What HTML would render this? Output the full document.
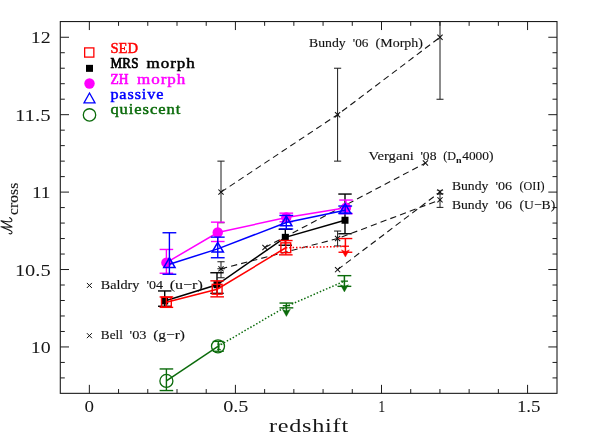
<!DOCTYPE html><html><head><meta charset="utf-8"><title>plot</title><style>
html,body{margin:0;padding:0;background:#fff;}svg{display:block;will-change:transform;}text{font-family:"Liberation Serif",serif;}
</style></head><body>
<svg width="592" height="443" viewBox="0 0 592 443">
<rect width="592" height="443" fill="#fff"/>
<g transform="translate(0,0.25)">
<polyline points="221.00,191.85 337.60,114.43 440.00,37.00" fill="none" stroke="#141414" stroke-width="1.1" stroke-dasharray="6.3 4.1"/>
<polyline points="265.00,247.20 425.40,162.80" fill="none" stroke="#141414" stroke-width="1.1" stroke-dasharray="6.3 4.1"/>
<polyline points="221.00,268.60 337.60,238.30 440.00,199.60" fill="none" stroke="#141414" stroke-width="1.1" stroke-dasharray="6.3 4.1"/>
<polyline points="337.60,269.40 440.00,191.80" fill="none" stroke="#141414" stroke-width="1.1" stroke-dasharray="6.3 4.1"/>
<line x1="221.00" y1="160.88" x2="221.00" y2="222.50" stroke="#1a1a1a" stroke-width="1.0" />
<line x1="217.40" y1="160.88" x2="224.60" y2="160.88" stroke="#1a1a1a" stroke-width="1.0" />
<line x1="217.40" y1="222.50" x2="224.60" y2="222.50" stroke="#1a1a1a" stroke-width="1.0" />
<line x1="337.60" y1="67.97" x2="337.60" y2="160.88" stroke="#1a1a1a" stroke-width="1.0" />
<line x1="334.00" y1="67.97" x2="341.20" y2="67.97" stroke="#1a1a1a" stroke-width="1.0" />
<line x1="334.00" y1="160.88" x2="341.20" y2="160.88" stroke="#1a1a1a" stroke-width="1.0" />
<line x1="440.00" y1="21.30" x2="440.00" y2="99.00" stroke="#1a1a1a" stroke-width="1.0" />
<line x1="436.50" y1="99.00" x2="443.50" y2="99.00" stroke="#1a1a1a" stroke-width="1.0" />
<line x1="221.00" y1="261.50" x2="221.00" y2="277.50" stroke="#1a1a1a" stroke-width="1.0" />
<line x1="217.40" y1="261.50" x2="224.60" y2="261.50" stroke="#1a1a1a" stroke-width="1.0" />
<line x1="217.40" y1="277.50" x2="224.60" y2="277.50" stroke="#1a1a1a" stroke-width="1.0" />
<line x1="337.60" y1="230.80" x2="337.60" y2="245.70" stroke="#1a1a1a" stroke-width="1.0" />
<line x1="334.00" y1="230.80" x2="341.20" y2="230.80" stroke="#1a1a1a" stroke-width="1.0" />
<line x1="334.00" y1="245.70" x2="341.20" y2="245.70" stroke="#1a1a1a" stroke-width="1.0" />
<line x1="440.00" y1="190.20" x2="440.00" y2="193.60" stroke="#666" stroke-width="0.9" />
<line x1="436.80" y1="190.20" x2="443.20" y2="190.20" stroke="#666" stroke-width="0.9" />
<line x1="436.80" y1="193.60" x2="443.20" y2="193.60" stroke="#666" stroke-width="0.9" />
<line x1="440.00" y1="193.60" x2="440.00" y2="207.15" stroke="#1a1a1a" stroke-width="1.0" />
<line x1="436.60" y1="193.60" x2="443.40" y2="193.60" stroke="#1a1a1a" stroke-width="1.0" />
<line x1="436.60" y1="207.15" x2="443.40" y2="207.15" stroke="#1a1a1a" stroke-width="1.0" />
<line x1="218.40" y1="189.25" x2="223.60" y2="194.45" stroke="#111" stroke-width="1.05" />
<line x1="218.40" y1="194.45" x2="223.60" y2="189.25" stroke="#111" stroke-width="1.05" />
<line x1="335.00" y1="111.83" x2="340.20" y2="117.03" stroke="#111" stroke-width="1.05" />
<line x1="335.00" y1="117.03" x2="340.20" y2="111.83" stroke="#111" stroke-width="1.05" />
<line x1="437.40" y1="34.40" x2="442.60" y2="39.60" stroke="#111" stroke-width="1.05" />
<line x1="437.40" y1="39.60" x2="442.60" y2="34.40" stroke="#111" stroke-width="1.05" />
<line x1="262.40" y1="244.60" x2="267.60" y2="249.80" stroke="#111" stroke-width="1.05" />
<line x1="262.40" y1="249.80" x2="267.60" y2="244.60" stroke="#111" stroke-width="1.05" />
<line x1="422.80" y1="160.20" x2="428.00" y2="165.40" stroke="#111" stroke-width="1.05" />
<line x1="422.80" y1="165.40" x2="428.00" y2="160.20" stroke="#111" stroke-width="1.05" />
<line x1="218.40" y1="266.00" x2="223.60" y2="271.20" stroke="#111" stroke-width="1.05" />
<line x1="218.40" y1="271.20" x2="223.60" y2="266.00" stroke="#111" stroke-width="1.05" />
<line x1="335.00" y1="235.70" x2="340.20" y2="240.90" stroke="#111" stroke-width="1.05" />
<line x1="335.00" y1="240.90" x2="340.20" y2="235.70" stroke="#111" stroke-width="1.05" />
<line x1="437.40" y1="189.20" x2="442.60" y2="194.40" stroke="#111" stroke-width="1.05" />
<line x1="437.40" y1="194.40" x2="442.60" y2="189.20" stroke="#111" stroke-width="1.05" />
<line x1="335.00" y1="266.80" x2="340.20" y2="272.00" stroke="#111" stroke-width="1.05" />
<line x1="335.00" y1="272.00" x2="340.20" y2="266.80" stroke="#111" stroke-width="1.05" />
<line x1="437.40" y1="197.00" x2="442.60" y2="202.20" stroke="#111" stroke-width="1.05" />
<line x1="437.40" y1="202.20" x2="442.60" y2="197.00" stroke="#111" stroke-width="1.05" />
<line x1="217.40" y1="268.50" x2="225.00" y2="268.50" stroke="#141414" stroke-width="1.0" />
<polyline points="166.40,380.70 218.00,346.10" fill="none" stroke="#0b6b0b" stroke-width="1.5" />
<polyline points="218.00,346.10 286.40,306.20 344.40,280.90" fill="none" stroke="#0b6b0b" stroke-width="1.5" stroke-dasharray="1.5 1.9"/>
<line x1="166.40" y1="368.70" x2="166.40" y2="390.30" stroke="#0b6b0b" stroke-width="1.4" />
<line x1="159.60" y1="368.70" x2="173.20" y2="368.70" stroke="#0b6b0b" stroke-width="1.4" />
<line x1="159.60" y1="390.30" x2="173.20" y2="390.30" stroke="#0b6b0b" stroke-width="1.4" />
<circle cx="166.4" cy="380.7" r="6.5" fill="none" stroke="#0b6b0b" stroke-width="1.3"/>
<line x1="218.30" y1="341.20" x2="218.30" y2="351.00" stroke="#0b6b0b" stroke-width="1.3" />
<line x1="212.80" y1="341.20" x2="223.80" y2="341.20" stroke="#0b6b0b" stroke-width="1.3" />
<line x1="212.80" y1="351.00" x2="223.80" y2="351.00" stroke="#0b6b0b" stroke-width="1.3" />
<line x1="219.00" y1="343.80" x2="219.00" y2="349.20" stroke="#0b6b0b" stroke-width="1.0" />
<line x1="217.20" y1="343.80" x2="220.80" y2="343.80" stroke="#0b6b0b" stroke-width="1.0" />
<line x1="217.20" y1="349.20" x2="220.80" y2="349.20" stroke="#0b6b0b" stroke-width="1.0" />
<circle cx="218" cy="346.1" r="6.5" fill="none" stroke="#0b6b0b" stroke-width="1.3"/>
<line x1="286.40" y1="302.80" x2="286.40" y2="314.20" stroke="#0b6b0b" stroke-width="1.5" />
<line x1="279.50" y1="302.80" x2="293.30" y2="302.80" stroke="#0b6b0b" stroke-width="1.4" />
<line x1="282.80" y1="305.40" x2="290.00" y2="305.40" stroke="#0b6b0b" stroke-width="1.3" />
<line x1="279.50" y1="307.60" x2="293.30" y2="307.60" stroke="#0b6b0b" stroke-width="1.4" />
<polygon points="282.40,309.00 286.40,310.80 290.40,309.00 286.40,316.20" fill="#0b6b0b" stroke="#0b6b0b" stroke-width="0.4"/>
<line x1="344.40" y1="275.40" x2="344.40" y2="289.70" stroke="#0b6b0b" stroke-width="1.5" />
<line x1="337.50" y1="275.40" x2="351.30" y2="275.40" stroke="#0b6b0b" stroke-width="1.4" />
<line x1="340.80" y1="280.90" x2="348.00" y2="280.90" stroke="#0b6b0b" stroke-width="1.3" />
<line x1="337.50" y1="286.10" x2="351.30" y2="286.10" stroke="#0b6b0b" stroke-width="1.4" />
<polygon points="340.40,284.50 344.40,286.30 348.40,284.50 344.40,291.70" fill="#0b6b0b" stroke="#0b6b0b" stroke-width="0.4"/>
<polyline points="164.70,300.70 217.00,284.50 285.30,237.10 345.00,220.00" fill="none" stroke="#000" stroke-width="1.5" />
<line x1="164.70" y1="290.70" x2="164.70" y2="306.00" stroke="#000" stroke-width="1.4" />
<line x1="158.00" y1="290.70" x2="171.40" y2="290.70" stroke="#000" stroke-width="1.4" />
<line x1="158.00" y1="306.00" x2="171.40" y2="306.00" stroke="#000" stroke-width="1.4" />
<rect x="161.20" y="297.20" width="7" height="7" fill="#000"/>
<line x1="217.00" y1="272.50" x2="217.00" y2="293.10" stroke="#000" stroke-width="1.4" />
<line x1="210.30" y1="272.50" x2="223.70" y2="272.50" stroke="#000" stroke-width="1.4" />
<line x1="210.30" y1="293.10" x2="223.70" y2="293.10" stroke="#000" stroke-width="1.4" />
<rect x="213.50" y="281.00" width="7" height="7" fill="#000"/>
<line x1="285.30" y1="229.00" x2="285.30" y2="245.00" stroke="#000" stroke-width="1.4" />
<line x1="278.60" y1="229.00" x2="292.00" y2="229.00" stroke="#000" stroke-width="1.4" />
<line x1="278.60" y1="245.00" x2="292.00" y2="245.00" stroke="#000" stroke-width="1.4" />
<rect x="281.80" y="233.60" width="7" height="7" fill="#000"/>
<line x1="345.00" y1="193.80" x2="345.00" y2="233.50" stroke="#000" stroke-width="1.4" />
<line x1="338.30" y1="193.80" x2="351.70" y2="193.80" stroke="#000" stroke-width="1.4" />
<line x1="338.30" y1="233.50" x2="351.70" y2="233.50" stroke="#000" stroke-width="1.4" />
<rect x="341.50" y="216.50" width="7" height="7" fill="#000"/>
<polyline points="166.40,301.90 217.15,289.00 285.80,247.50" fill="none" stroke="#ff0000" stroke-width="1.5" />
<polyline points="285.80,247.50 345.30,246.20" fill="none" stroke="#ff0000" stroke-width="1.5" stroke-dasharray="1.5 1.9"/>
<line x1="166.40" y1="296.70" x2="166.40" y2="307.10" stroke="#ff0000" stroke-width="1.4" />
<line x1="159.60" y1="296.70" x2="173.20" y2="296.70" stroke="#ff0000" stroke-width="1.4" />
<line x1="159.60" y1="307.10" x2="173.20" y2="307.10" stroke="#ff0000" stroke-width="1.4" />
<rect x="161.50" y="297.00" width="9.8" height="9.8" fill="none" stroke="#ff0000" stroke-width="1.4"/>
<line x1="217.15" y1="280.60" x2="217.15" y2="296.60" stroke="#ff0000" stroke-width="1.4" />
<line x1="210.35" y1="280.60" x2="223.95" y2="280.60" stroke="#ff0000" stroke-width="1.4" />
<line x1="210.35" y1="296.60" x2="223.95" y2="296.60" stroke="#ff0000" stroke-width="1.4" />
<rect x="212.25" y="284.10" width="9.8" height="9.8" fill="none" stroke="#ff0000" stroke-width="1.4"/>
<line x1="285.80" y1="240.30" x2="285.80" y2="254.60" stroke="#ff0000" stroke-width="1.4" />
<line x1="279.00" y1="240.30" x2="292.60" y2="240.30" stroke="#ff0000" stroke-width="1.4" />
<line x1="279.00" y1="254.60" x2="292.60" y2="254.60" stroke="#ff0000" stroke-width="1.4" />
<rect x="280.90" y="242.60" width="9.8" height="9.8" fill="none" stroke="#ff0000" stroke-width="1.4"/>
<line x1="345.40" y1="238.30" x2="345.40" y2="254.80" stroke="#ff0000" stroke-width="1.5" />
<line x1="338.50" y1="238.30" x2="352.30" y2="238.30" stroke="#ff0000" stroke-width="1.4" />
<line x1="341.80" y1="246.00" x2="349.00" y2="246.00" stroke="#ff0000" stroke-width="1.3" />
<line x1="338.50" y1="252.00" x2="352.30" y2="252.00" stroke="#ff0000" stroke-width="1.4" />
<polygon points="341.40,249.60 345.40,251.40 349.40,249.60 345.40,256.80" fill="#ff0000" stroke="#ff0000" stroke-width="0.4"/>
<polyline points="166.40,262.40 217.75,232.25 286.30,217.30 346.00,207.40" fill="none" stroke="#ff00ff" stroke-width="1.5" />
<line x1="166.40" y1="249.20" x2="166.40" y2="273.00" stroke="#ff00ff" stroke-width="1.4" />
<line x1="159.60" y1="249.20" x2="173.20" y2="249.20" stroke="#ff00ff" stroke-width="1.4" />
<line x1="159.60" y1="273.00" x2="173.20" y2="273.00" stroke="#ff00ff" stroke-width="1.4" />
<circle cx="166.40" cy="262.40" r="5.2" fill="#ff00ff"/>
<line x1="217.75" y1="221.90" x2="217.75" y2="241.25" stroke="#ff00ff" stroke-width="1.4" />
<line x1="210.95" y1="221.90" x2="224.55" y2="221.90" stroke="#ff00ff" stroke-width="1.4" />
<line x1="210.95" y1="241.25" x2="224.55" y2="241.25" stroke="#ff00ff" stroke-width="1.4" />
<circle cx="217.75" cy="232.25" r="5.2" fill="#ff00ff"/>
<line x1="286.30" y1="212.90" x2="286.30" y2="221.50" stroke="#ff00ff" stroke-width="1.4" />
<line x1="279.50" y1="212.90" x2="293.10" y2="212.90" stroke="#ff00ff" stroke-width="1.4" />
<line x1="279.50" y1="221.50" x2="293.10" y2="221.50" stroke="#ff00ff" stroke-width="1.4" />
<circle cx="286.30" cy="217.30" r="5.2" fill="#ff00ff"/>
<line x1="346.00" y1="199.80" x2="346.00" y2="213.40" stroke="#ff00ff" stroke-width="1.4" />
<line x1="339.20" y1="199.80" x2="352.80" y2="199.80" stroke="#ff00ff" stroke-width="1.4" />
<line x1="339.20" y1="213.40" x2="352.80" y2="213.40" stroke="#ff00ff" stroke-width="1.4" />
<circle cx="346.00" cy="207.40" r="5.2" fill="#ff00ff"/>
<polyline points="169.40,264.00 217.75,248.60 286.30,222.30 345.20,209.90" fill="none" stroke="#0000ff" stroke-width="1.5" />
<line x1="169.40" y1="232.50" x2="169.40" y2="274.00" stroke="#0000ff" stroke-width="1.4" />
<line x1="162.50" y1="232.50" x2="176.30" y2="232.50" stroke="#0000ff" stroke-width="1.4" />
<line x1="162.50" y1="274.00" x2="176.30" y2="274.00" stroke="#0000ff" stroke-width="1.4" />
<polygon points="169.40,257.60 163.80,267.20 175.00,267.20" fill="none" stroke="#0000ff" stroke-width="1.55"/>
<line x1="217.75" y1="236.90" x2="217.75" y2="257.50" stroke="#0000ff" stroke-width="1.4" />
<line x1="210.85" y1="236.90" x2="224.65" y2="236.90" stroke="#0000ff" stroke-width="1.4" />
<line x1="210.85" y1="257.50" x2="224.65" y2="257.50" stroke="#0000ff" stroke-width="1.4" />
<polygon points="217.75,242.20 212.15,251.80 223.35,251.80" fill="none" stroke="#0000ff" stroke-width="1.55"/>
<line x1="286.30" y1="215.20" x2="286.30" y2="228.75" stroke="#0000ff" stroke-width="1.4" />
<line x1="279.40" y1="215.20" x2="293.20" y2="215.20" stroke="#0000ff" stroke-width="1.4" />
<line x1="279.40" y1="228.75" x2="293.20" y2="228.75" stroke="#0000ff" stroke-width="1.4" />
<polygon points="286.30,215.90 280.70,225.50 291.90,225.50" fill="none" stroke="#0000ff" stroke-width="1.55"/>
<line x1="345.20" y1="205.80" x2="345.20" y2="213.00" stroke="#0000ff" stroke-width="1.4" />
<line x1="338.30" y1="205.80" x2="352.10" y2="205.80" stroke="#0000ff" stroke-width="1.4" />
<line x1="338.30" y1="213.00" x2="352.10" y2="213.00" stroke="#0000ff" stroke-width="1.4" />
<polygon points="345.20,203.50 339.60,213.10 350.80,213.10" fill="none" stroke="#0000ff" stroke-width="1.55"/>
<rect x="60.3" y="21.3" width="496.7" height="371.8" fill="none" stroke="#1c1c1c" stroke-width="1.1"/>
<line x1="89.35" y1="393.10" x2="89.35" y2="384.60" stroke="#1c1c1c" stroke-width="1.0" />
<line x1="89.35" y1="21.30" x2="89.35" y2="29.80" stroke="#1c1c1c" stroke-width="1.0" />
<line x1="118.56" y1="393.10" x2="118.56" y2="388.80" stroke="#1c1c1c" stroke-width="1.0" />
<line x1="118.56" y1="21.30" x2="118.56" y2="25.60" stroke="#1c1c1c" stroke-width="1.0" />
<line x1="147.78" y1="393.10" x2="147.78" y2="388.80" stroke="#1c1c1c" stroke-width="1.0" />
<line x1="147.78" y1="21.30" x2="147.78" y2="25.60" stroke="#1c1c1c" stroke-width="1.0" />
<line x1="177.00" y1="393.10" x2="177.00" y2="388.80" stroke="#1c1c1c" stroke-width="1.0" />
<line x1="177.00" y1="21.30" x2="177.00" y2="25.60" stroke="#1c1c1c" stroke-width="1.0" />
<line x1="206.21" y1="393.10" x2="206.21" y2="388.80" stroke="#1c1c1c" stroke-width="1.0" />
<line x1="206.21" y1="21.30" x2="206.21" y2="25.60" stroke="#1c1c1c" stroke-width="1.0" />
<line x1="235.42" y1="393.10" x2="235.42" y2="384.60" stroke="#1c1c1c" stroke-width="1.0" />
<line x1="235.42" y1="21.30" x2="235.42" y2="29.80" stroke="#1c1c1c" stroke-width="1.0" />
<line x1="264.64" y1="393.10" x2="264.64" y2="388.80" stroke="#1c1c1c" stroke-width="1.0" />
<line x1="264.64" y1="21.30" x2="264.64" y2="25.60" stroke="#1c1c1c" stroke-width="1.0" />
<line x1="293.85" y1="393.10" x2="293.85" y2="388.80" stroke="#1c1c1c" stroke-width="1.0" />
<line x1="293.85" y1="21.30" x2="293.85" y2="25.60" stroke="#1c1c1c" stroke-width="1.0" />
<line x1="323.07" y1="393.10" x2="323.07" y2="388.80" stroke="#1c1c1c" stroke-width="1.0" />
<line x1="323.07" y1="21.30" x2="323.07" y2="25.60" stroke="#1c1c1c" stroke-width="1.0" />
<line x1="352.28" y1="393.10" x2="352.28" y2="388.80" stroke="#1c1c1c" stroke-width="1.0" />
<line x1="352.28" y1="21.30" x2="352.28" y2="25.60" stroke="#1c1c1c" stroke-width="1.0" />
<line x1="381.50" y1="393.10" x2="381.50" y2="384.60" stroke="#1c1c1c" stroke-width="1.0" />
<line x1="381.50" y1="21.30" x2="381.50" y2="29.80" stroke="#1c1c1c" stroke-width="1.0" />
<line x1="410.72" y1="393.10" x2="410.72" y2="388.80" stroke="#1c1c1c" stroke-width="1.0" />
<line x1="410.72" y1="21.30" x2="410.72" y2="25.60" stroke="#1c1c1c" stroke-width="1.0" />
<line x1="439.93" y1="393.10" x2="439.93" y2="388.80" stroke="#1c1c1c" stroke-width="1.0" />
<line x1="439.93" y1="21.30" x2="439.93" y2="25.60" stroke="#1c1c1c" stroke-width="1.0" />
<line x1="469.14" y1="393.10" x2="469.14" y2="388.80" stroke="#1c1c1c" stroke-width="1.0" />
<line x1="469.14" y1="21.30" x2="469.14" y2="25.60" stroke="#1c1c1c" stroke-width="1.0" />
<line x1="498.36" y1="393.10" x2="498.36" y2="388.80" stroke="#1c1c1c" stroke-width="1.0" />
<line x1="498.36" y1="21.30" x2="498.36" y2="25.60" stroke="#1c1c1c" stroke-width="1.0" />
<line x1="527.57" y1="393.10" x2="527.57" y2="384.60" stroke="#1c1c1c" stroke-width="1.0" />
<line x1="527.57" y1="21.30" x2="527.57" y2="29.80" stroke="#1c1c1c" stroke-width="1.0" />
<line x1="60.30" y1="377.67" x2="64.80" y2="377.67" stroke="#1c1c1c" stroke-width="1.0" />
<line x1="557.00" y1="377.67" x2="552.50" y2="377.67" stroke="#1c1c1c" stroke-width="1.0" />
<line x1="60.30" y1="362.18" x2="64.80" y2="362.18" stroke="#1c1c1c" stroke-width="1.0" />
<line x1="557.00" y1="362.18" x2="552.50" y2="362.18" stroke="#1c1c1c" stroke-width="1.0" />
<line x1="60.30" y1="346.70" x2="69.00" y2="346.70" stroke="#1c1c1c" stroke-width="1.0" />
<line x1="557.00" y1="346.70" x2="548.30" y2="346.70" stroke="#1c1c1c" stroke-width="1.0" />
<line x1="60.30" y1="331.22" x2="64.80" y2="331.22" stroke="#1c1c1c" stroke-width="1.0" />
<line x1="557.00" y1="331.22" x2="552.50" y2="331.22" stroke="#1c1c1c" stroke-width="1.0" />
<line x1="60.30" y1="315.73" x2="64.80" y2="315.73" stroke="#1c1c1c" stroke-width="1.0" />
<line x1="557.00" y1="315.73" x2="552.50" y2="315.73" stroke="#1c1c1c" stroke-width="1.0" />
<line x1="60.30" y1="300.24" x2="64.80" y2="300.24" stroke="#1c1c1c" stroke-width="1.0" />
<line x1="557.00" y1="300.24" x2="552.50" y2="300.24" stroke="#1c1c1c" stroke-width="1.0" />
<line x1="60.30" y1="284.76" x2="64.80" y2="284.76" stroke="#1c1c1c" stroke-width="1.0" />
<line x1="557.00" y1="284.76" x2="552.50" y2="284.76" stroke="#1c1c1c" stroke-width="1.0" />
<line x1="60.30" y1="269.27" x2="69.00" y2="269.27" stroke="#1c1c1c" stroke-width="1.0" />
<line x1="557.00" y1="269.27" x2="548.30" y2="269.27" stroke="#1c1c1c" stroke-width="1.0" />
<line x1="60.30" y1="253.79" x2="64.80" y2="253.79" stroke="#1c1c1c" stroke-width="1.0" />
<line x1="557.00" y1="253.79" x2="552.50" y2="253.79" stroke="#1c1c1c" stroke-width="1.0" />
<line x1="60.30" y1="238.31" x2="64.80" y2="238.31" stroke="#1c1c1c" stroke-width="1.0" />
<line x1="557.00" y1="238.31" x2="552.50" y2="238.31" stroke="#1c1c1c" stroke-width="1.0" />
<line x1="60.30" y1="222.82" x2="64.80" y2="222.82" stroke="#1c1c1c" stroke-width="1.0" />
<line x1="557.00" y1="222.82" x2="552.50" y2="222.82" stroke="#1c1c1c" stroke-width="1.0" />
<line x1="60.30" y1="207.33" x2="64.80" y2="207.33" stroke="#1c1c1c" stroke-width="1.0" />
<line x1="557.00" y1="207.33" x2="552.50" y2="207.33" stroke="#1c1c1c" stroke-width="1.0" />
<line x1="60.30" y1="191.85" x2="69.00" y2="191.85" stroke="#1c1c1c" stroke-width="1.0" />
<line x1="557.00" y1="191.85" x2="548.30" y2="191.85" stroke="#1c1c1c" stroke-width="1.0" />
<line x1="60.30" y1="176.37" x2="64.80" y2="176.37" stroke="#1c1c1c" stroke-width="1.0" />
<line x1="557.00" y1="176.37" x2="552.50" y2="176.37" stroke="#1c1c1c" stroke-width="1.0" />
<line x1="60.30" y1="160.88" x2="64.80" y2="160.88" stroke="#1c1c1c" stroke-width="1.0" />
<line x1="557.00" y1="160.88" x2="552.50" y2="160.88" stroke="#1c1c1c" stroke-width="1.0" />
<line x1="60.30" y1="145.39" x2="64.80" y2="145.39" stroke="#1c1c1c" stroke-width="1.0" />
<line x1="557.00" y1="145.39" x2="552.50" y2="145.39" stroke="#1c1c1c" stroke-width="1.0" />
<line x1="60.30" y1="129.91" x2="64.80" y2="129.91" stroke="#1c1c1c" stroke-width="1.0" />
<line x1="557.00" y1="129.91" x2="552.50" y2="129.91" stroke="#1c1c1c" stroke-width="1.0" />
<line x1="60.30" y1="114.43" x2="69.00" y2="114.43" stroke="#1c1c1c" stroke-width="1.0" />
<line x1="557.00" y1="114.43" x2="548.30" y2="114.43" stroke="#1c1c1c" stroke-width="1.0" />
<line x1="60.30" y1="98.94" x2="64.80" y2="98.94" stroke="#1c1c1c" stroke-width="1.0" />
<line x1="557.00" y1="98.94" x2="552.50" y2="98.94" stroke="#1c1c1c" stroke-width="1.0" />
<line x1="60.30" y1="83.46" x2="64.80" y2="83.46" stroke="#1c1c1c" stroke-width="1.0" />
<line x1="557.00" y1="83.46" x2="552.50" y2="83.46" stroke="#1c1c1c" stroke-width="1.0" />
<line x1="60.30" y1="67.97" x2="64.80" y2="67.97" stroke="#1c1c1c" stroke-width="1.0" />
<line x1="557.00" y1="67.97" x2="552.50" y2="67.97" stroke="#1c1c1c" stroke-width="1.0" />
<line x1="60.30" y1="52.48" x2="64.80" y2="52.48" stroke="#1c1c1c" stroke-width="1.0" />
<line x1="557.00" y1="52.48" x2="552.50" y2="52.48" stroke="#1c1c1c" stroke-width="1.0" />
<line x1="60.30" y1="37.00" x2="69.00" y2="37.00" stroke="#1c1c1c" stroke-width="1.0" />
<line x1="557.00" y1="37.00" x2="548.30" y2="37.00" stroke="#1c1c1c" stroke-width="1.0" />
<text x="84.60" y="411.70" font-size="17.5" fill="#161616" text-anchor="start" font-weight="normal" textLength="9.50" lengthAdjust="spacingAndGlyphs" >0</text>
<text x="223.20" y="411.70" font-size="17.5" fill="#161616" text-anchor="start" font-weight="normal" textLength="25.30" lengthAdjust="spacingAndGlyphs" >0.5</text>
<text x="378.30" y="411.70" font-size="17.5" fill="#161616" text-anchor="start" font-weight="normal" textLength="7.00" lengthAdjust="spacingAndGlyphs" >1</text>
<text x="516.90" y="411.70" font-size="17.5" fill="#161616" text-anchor="start" font-weight="normal" textLength="23.70" lengthAdjust="spacingAndGlyphs" >1.5</text>
<text x="30.70" y="43.10" font-size="17.5" fill="#161616" text-anchor="start" font-weight="normal" textLength="19.90" lengthAdjust="spacingAndGlyphs" >12</text>
<text x="15.00" y="120.53" font-size="17.5" fill="#161616" text-anchor="start" font-weight="normal" textLength="35.60" lengthAdjust="spacingAndGlyphs" >11.5</text>
<text x="31.90" y="197.95" font-size="17.5" fill="#161616" text-anchor="start" font-weight="normal" textLength="18.70" lengthAdjust="spacingAndGlyphs" >11</text>
<text x="14.90" y="275.38" font-size="17.5" fill="#161616" text-anchor="start" font-weight="normal" textLength="35.70" lengthAdjust="spacingAndGlyphs" >10.5</text>
<text x="30.70" y="352.80" font-size="17.5" fill="#161616" text-anchor="start" font-weight="normal" textLength="19.90" lengthAdjust="spacingAndGlyphs" >10</text>
<text x="268.90" y="432.00" font-size="18.8" fill="#161616" text-anchor="start" font-weight="normal" textLength="80.00" lengthAdjust="spacingAndGlyphs" letter-spacing="0.6">redshift</text>
<g transform="translate(12.3,234.0) rotate(-90)">
<path d="M0.7,-3.2 C-0.2,-1.0 1.2,0.4 2.7,-0.6 C4.3,-1.8 5.9,-7 7.5,-11.3 C7.2,-7 6.9,-3.5 7.3,-0.3 C9.2,-4 11.2,-8 13.5,-11.3 C12.7,-7.5 12.2,-4 12.6,-1.8 C12.9,0.2 14.9,0.4 16.7,-2.7" fill="none" stroke="#161616" stroke-width="1.05" stroke-linejoin="round" stroke-linecap="round"/>
<text x="19.30" y="5.20" font-size="14.5" fill="#161616" text-anchor="start" font-weight="normal" textLength="32.20" lengthAdjust="spacingAndGlyphs"  stroke="#161616" stroke-width="0.12">cross</text>
</g>
<rect x="84.65" y="47.65" width="9.2" height="9.2" fill="none" stroke="#ff0000" stroke-width="1.3"/>
<rect x="86" y="64.6" width="7" height="7" fill="#000"/>
<circle cx="89.5" cy="83.2" r="5.2" fill="#ff00ff"/>
<polygon points="89.5,92.8 84.0,102.6 95.0,102.6" fill="none" stroke="#0000ff" stroke-width="1.3"/>
<circle cx="89.5" cy="114.7" r="6.2" fill="none" stroke="#0b6b0b" stroke-width="1.3"/>
<text x="110.40" y="52.50" font-size="14" fill="#ff0000" text-anchor="start" font-weight="normal" textLength="27.60" lengthAdjust="spacingAndGlyphs"  stroke="#ff0000" stroke-width="0.45">SED</text>
<text x="110.40" y="68.00" font-size="14" fill="#000" text-anchor="start" font-weight="normal" textLength="28.40" lengthAdjust="spacingAndGlyphs" letter-spacing="0.3" stroke="#000" stroke-width="0.7">MRS</text>
<text x="146.60" y="68.00" font-size="14" fill="#000" text-anchor="start" font-weight="normal" textLength="49.20" lengthAdjust="spacingAndGlyphs" letter-spacing="0.8" stroke="#000" stroke-width="0.45">morph</text>
<text x="110.40" y="83.50" font-size="14" fill="#ff00ff" text-anchor="start" font-weight="normal" textLength="18.40" lengthAdjust="spacingAndGlyphs" letter-spacing="0.3" stroke="#ff00ff" stroke-width="0.7">ZH</text>
<text x="137.10" y="83.50" font-size="14" fill="#ff00ff" text-anchor="start" font-weight="normal" textLength="49.20" lengthAdjust="spacingAndGlyphs" letter-spacing="0.8" stroke="#ff00ff" stroke-width="0.45">morph</text>
<text x="110.40" y="99.00" font-size="14" fill="#0000ff" text-anchor="start" font-weight="normal" textLength="53.90" lengthAdjust="spacingAndGlyphs" letter-spacing="0.8" stroke="#0000ff" stroke-width="0.45">passive</text>
<text x="110.40" y="114.00" font-size="14" fill="#0b6b0b" text-anchor="start" font-weight="normal" textLength="70.90" lengthAdjust="spacingAndGlyphs" letter-spacing="0.8" stroke="#0b6b0b" stroke-width="0.45">quiescent</text>
<text x="309.00" y="46.50" font-size="13.0" fill="#111" text-anchor="start" font-weight="normal" textLength="36.60" lengthAdjust="spacingAndGlyphs"  stroke="#111" stroke-width="0.12">Bundy</text>
<text x="352.80" y="46.50" font-size="13.0" fill="#111" text-anchor="start" font-weight="normal" textLength="15.60" lengthAdjust="spacingAndGlyphs"  stroke="#111" stroke-width="0.12">'06</text>
<text x="375.60" y="46.50" font-size="13.0" fill="#111" text-anchor="start" font-weight="normal" textLength="47.30" lengthAdjust="spacingAndGlyphs"  stroke="#111" stroke-width="0.12">(Morph)</text>
<text x="368.50" y="159.50" font-size="13.0" fill="#111" text-anchor="start" font-weight="normal" textLength="45.40" lengthAdjust="spacingAndGlyphs"  stroke="#111" stroke-width="0.12">Vergani</text>
<text x="420.40" y="159.50" font-size="13.0" fill="#111" text-anchor="start" font-weight="normal" textLength="16.10" lengthAdjust="spacingAndGlyphs"  stroke="#111" stroke-width="0.12">'08</text>
<text x="443.20" y="159.50" font-size="13.0" fill="#111" text-anchor="start" font-weight="normal" textLength="12.80" lengthAdjust="spacingAndGlyphs"  stroke="#111" stroke-width="0.12">(D</text>
<text x="462.20" y="159.50" font-size="13.0" fill="#111" text-anchor="start" font-weight="normal" textLength="31.30" lengthAdjust="spacingAndGlyphs"  stroke="#111" stroke-width="0.12">4000)</text>
<text x="455.90" y="162.30" font-size="8.6" fill="#111" text-anchor="start" font-weight="bold" textLength="5.60" lengthAdjust="spacingAndGlyphs" >n</text>
<text x="451.90" y="189.70" font-size="13.0" fill="#111" text-anchor="start" font-weight="normal" textLength="36.40" lengthAdjust="spacingAndGlyphs"  stroke="#111" stroke-width="0.12">Bundy</text>
<text x="495.50" y="189.70" font-size="13.0" fill="#111" text-anchor="start" font-weight="normal" textLength="16.60" lengthAdjust="spacingAndGlyphs"  stroke="#111" stroke-width="0.12">'06</text>
<text x="519.50" y="189.70" font-size="13.0" fill="#111" text-anchor="start" font-weight="normal" textLength="25.00" lengthAdjust="spacingAndGlyphs"  stroke="#111" stroke-width="0.12">(OII)</text>
<text x="451.90" y="209.00" font-size="13.0" fill="#111" text-anchor="start" font-weight="normal" textLength="36.40" lengthAdjust="spacingAndGlyphs"  stroke="#111" stroke-width="0.12">Bundy</text>
<text x="495.50" y="209.00" font-size="13.0" fill="#111" text-anchor="start" font-weight="normal" textLength="16.60" lengthAdjust="spacingAndGlyphs"  stroke="#111" stroke-width="0.12">'06</text>
<text x="519.50" y="209.00" font-size="13.0" fill="#111" text-anchor="start" font-weight="normal" textLength="35.70" lengthAdjust="spacingAndGlyphs"  stroke="#111" stroke-width="0.12">(U&#x2212;B)</text>
<text x="100.80" y="289.00" font-size="13.0" fill="#111" text-anchor="start" font-weight="normal" textLength="38.60" lengthAdjust="spacingAndGlyphs"  stroke="#111" stroke-width="0.12">Baldry</text>
<text x="146.40" y="289.00" font-size="13.0" fill="#111" text-anchor="start" font-weight="normal" textLength="16.60" lengthAdjust="spacingAndGlyphs"  stroke="#111" stroke-width="0.12">'04</text>
<text x="169.70" y="289.00" font-size="13.0" fill="#111" text-anchor="start" font-weight="normal" textLength="33.10" lengthAdjust="spacingAndGlyphs"  stroke="#111" stroke-width="0.12">(u&#x2212;r)</text>
<text x="100.80" y="338.90" font-size="13.0" fill="#111" text-anchor="start" font-weight="normal" textLength="22.10" lengthAdjust="spacingAndGlyphs"  stroke="#111" stroke-width="0.12">Bell</text>
<text x="129.60" y="338.90" font-size="13.0" fill="#111" text-anchor="start" font-weight="normal" textLength="16.90" lengthAdjust="spacingAndGlyphs"  stroke="#111" stroke-width="0.12">'03</text>
<text x="153.20" y="338.90" font-size="13.0" fill="#111" text-anchor="start" font-weight="normal" textLength="31.80" lengthAdjust="spacingAndGlyphs"  stroke="#111" stroke-width="0.12">(g&#x2212;r)</text>
<line x1="86.90" y1="282.70" x2="91.90" y2="287.70" stroke="#111" stroke-width="1.0" />
<line x1="86.90" y1="287.70" x2="91.90" y2="282.70" stroke="#111" stroke-width="1.0" />
<line x1="86.90" y1="332.90" x2="91.90" y2="337.90" stroke="#111" stroke-width="1.0" />
<line x1="86.90" y1="337.90" x2="91.90" y2="332.90" stroke="#111" stroke-width="1.0" />
</g></svg></body></html>
